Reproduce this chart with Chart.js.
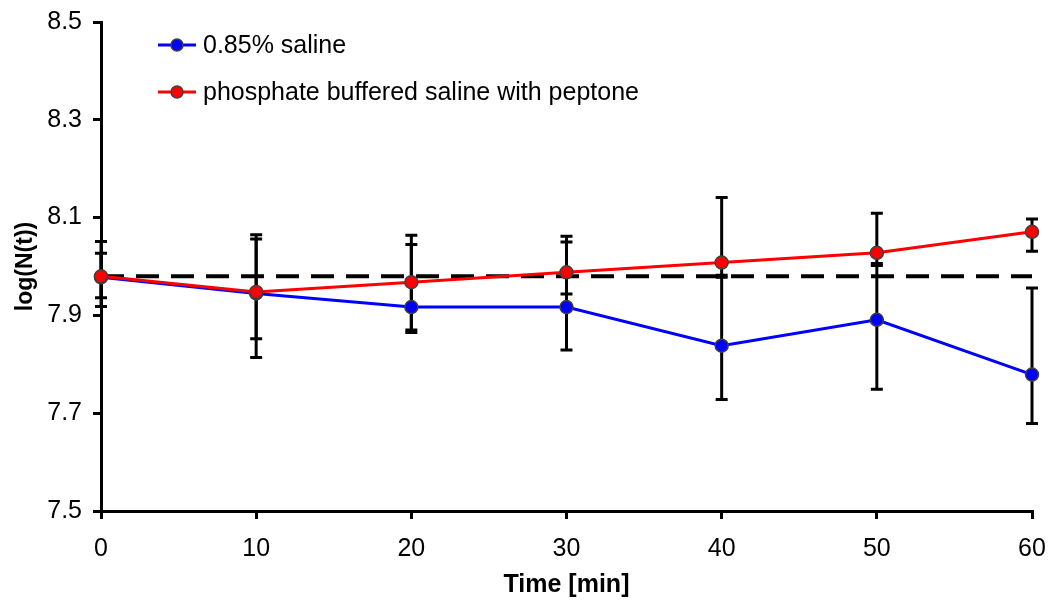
<!DOCTYPE html>
<html>
<head>
<meta charset="utf-8">
<script src="https://cdn.jsdelivr.net/npm/chart.js@4/dist/chart.umd.min.js"></script>
<style>
  html, body { margin: 0; padding: 0; background: #fff; }
  .wrap { width: 1049px; height: 604px; }
</style>
</head>
<body>
<div class="wrap"><canvas class="js-chart" width="1049" height="604"></canvas></div>
<script>
// sampling times and measured log counts
const times = [0, 10, 20, 30, 40, 50, 60];
const salineLog = [7.978, 7.945, 7.917, 7.917, 7.838, 7.891, 7.779];
const pbsLog = [7.980, 7.948, 7.968, 7.988, 8.008, 8.028, 8.071];

// upper / lower ends of the error bars
const salineHigh = [8.051, 8.065, 8.045, 8.050, 7.978, 8.006, 7.956];
const salineLow = [7.918, 7.814, 7.870, 7.829, 7.728, 7.749, 7.679];
const pbsHigh = [8.027, 8.056, 8.064, 8.062, 8.141, 8.109, 8.097];
const pbsLow = [7.936, 7.852, 7.865, 7.944, 7.982, 8.002, 8.031];

// starting level reference
const refTimes = [0, 60];
const refLevel = 7.98;

const seriesNames = ['0.85% saline', 'phosphate buffered saline with peptone'];
const yTicks = [7.5, 7.7, 7.9, 8.1, 8.3, 8.5];

const FONT = "'Liberation Sans', Arial, sans-serif";

const toPoints = (xs, ys) => xs.map((x, i) => ({ x, y: ys[i] }));

// vertical whiskers with caps, drawn under the lines
const errorBars = {
  id: 'errorBars',
  beforeDatasetsDraw(chart) {
    const { ctx, scales: { x, y } } = chart;
    const sets = [[salineHigh, salineLow], [pbsHigh, pbsLow]];
    ctx.save();
    ctx.strokeStyle = '#000';
    ctx.lineWidth = 3;
    sets.forEach(([hi, lo]) => {
      times.forEach((t, i) => {
        const px = x.getPixelForValue(t);
        const top = y.getPixelForValue(hi[i]);
        const bot = y.getPixelForValue(lo[i]);
        ctx.beginPath();
        ctx.moveTo(px, top);
        ctx.lineTo(px, bot);
        ctx.moveTo(px - 6, top);
        ctx.lineTo(px + 6, top);
        ctx.moveTo(px - 6, bot);
        ctx.lineTo(px + 6, bot);
        ctx.stroke();
      });
    });
    ctx.restore();
  },
};

// legend in the upper left of the plot
const insideLegend = {
  id: 'insideLegend',
  afterDraw(chart) {
    const { ctx } = chart;
    const colors = ['#0000ff', '#ff0000'];
    const rows = [45, 92];
    ctx.save();
    rows.forEach((ly, i) => {
      ctx.strokeStyle = colors[i];
      ctx.lineWidth = 3;
      ctx.beginPath();
      ctx.moveTo(158, ly);
      ctx.lineTo(196, ly);
      ctx.stroke();
      ctx.beginPath();
      ctx.arc(177, ly, 6, 0, Math.PI * 2);
      ctx.fillStyle = colors[i];
      ctx.fill();
      ctx.lineWidth = 1.5;
      ctx.strokeStyle = '#404040';
      ctx.stroke();
      ctx.fillStyle = '#000';
      ctx.font = `25px ${FONT}`;
      ctx.textBaseline = 'middle';
      ctx.textAlign = 'left';
      ctx.fillText(seriesNames[i], 203, ly + 1);
    });
    ctx.restore();
  },
};

const lineSet = (label, data, color, order) => ({
  label,
  data,
  borderColor: color,
  backgroundColor: color,
  borderWidth: 3,
  pointRadius: 6.5,
  pointBorderWidth: 1.5,
  pointBorderColor: '#404040',
  pointBackgroundColor: color,
  tension: 0,
  clip: false,
  order,
});

const axisGrid = {
  drawOnChartArea: false,
  drawTicks: true,
  tickLength: 8,
  color: '#000',
  lineWidth: 3,
};

const ctx = document.querySelector('.js-chart').getContext('2d');

const chart = new Chart(ctx, {
  type: 'line',
  data: {
    datasets: [
      lineSet(seriesNames[1], toPoints(times, pbsLog), '#ff0000', 0),
      lineSet(seriesNames[0], toPoints(times, salineLog), '#0000ff', 1),
      {
        label: 'reference',
        data: toPoints(refTimes, refTimes.map(() => refLevel)),
        borderColor: '#000',
        borderWidth: 4,
        borderDash: [23, 12],
        pointRadius: 0,
        order: 2,
      },
    ],
  },
  plugins: [errorBars, insideLegend],
  options: {
    responsive: false,
    animation: false,
    layout: { padding: { top: 22, right: 17, left: 0, bottom: 0 } },
    plugins: {
      legend: { display: false },
      tooltip: { enabled: false },
    },
    scales: {
      x: {
        type: 'linear',
        min: 0,
        max: 60,
        afterFit(scale) {
          scale.height = 93;
          scale.paddingLeft = 0;
          scale.paddingRight = 0;
        },
        ticks: {
          stepSize: 10,
          padding: 15,
          color: '#000',
          font: { family: FONT, size: 25 },
        },
        grid: axisGrid,
        border: { display: true, color: '#000', width: 3 },
        title: {
          display: true,
          text: 'Time [min]',
          color: '#000',
          font: { family: FONT, size: 25, weight: 'bold' },
          padding: { top: 0, bottom: 4 },
        },
      },
      y: {
        min: 7.5,
        max: 8.5,
        afterFit(scale) {
          scale.width = 101;
          scale.paddingTop = 0;
          scale.paddingBottom = 0;
        },
        afterBuildTicks(scale) { scale.ticks = yTicks.map((v) => ({ value: v })); },
        ticks: {
          padding: 11,
          color: '#000',
          font: { family: FONT, size: 25 },
          callback: (v) => Number(v).toFixed(1),
        },
        grid: axisGrid,
        border: { display: true, color: '#000', width: 3 },
        title: {
          display: true,
          text: 'log(N(t))',
          color: '#000',
          font: { family: FONT, size: 23, weight: 'bold' },
          padding: { top: 12, bottom: 0 },
        },
      },
    },
  },
});
</script>
</body>
</html>
